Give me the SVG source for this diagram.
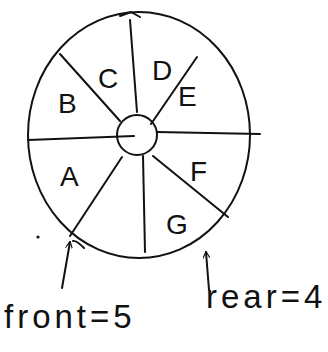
<svg xmlns="http://www.w3.org/2000/svg" width="328" height="352" viewBox="0 0 328 352">
<defs>
<marker id="ah" viewBox="0 0 10 10" refX="9" refY="5" markerWidth="7" markerHeight="7" orient="auto-start-reverse" markerUnits="userSpaceOnUse">
<path d="M0,0 L10,5 L0,10" fill="none" stroke="#111" stroke-width="1.6"/>
</marker>
</defs>
<style>
.s{fill:none;stroke:#111;stroke-width:2;stroke-linecap:round}
.l{font-family:"Liberation Sans",sans-serif;font-size:28px;fill:#111}
.t{font-family:"Liberation Sans",sans-serif;font-size:33px;letter-spacing:4px;fill:#111}
</style>
<rect width="328" height="352" fill="#fff"/>
<g id="queue">
<ellipse class="s" cx="139" cy="135" rx="111" ry="123"/>
<circle class="s" cx="137" cy="135" r="20"/>
</g>
<g id="connectors">
<line class="s" x1="130" y1="20" x2="137" y2="112"/>
<line class="s" x1="60" y1="54" x2="120" y2="121"/>
<line class="s" x1="197" y1="57" x2="151" y2="124"/>
<line class="s" x1="28" y1="140" x2="134" y2="136"/>
<line class="s" x1="157" y1="132" x2="260" y2="134"/>
<line class="s" x1="122" y1="157" x2="70" y2="236"/>
<line class="s" x1="143" y1="156" x2="145" y2="252"/>
<line class="s" x1="153" y1="156" x2="228" y2="217"/>
<path class="s" d="M120,16 L131,12 L140,17"/>
<line class="s" x1="62" y1="288" x2="70" y2="242" marker-end="url(#ah)"/>
<line class="s" x1="209" y1="290" x2="206" y2="252" marker-end="url(#ah)"/>
<path class="s" d="M84,248 Q76,240 73,241"/>
<circle cx="38" cy="237" r="1.6" fill="#111"/>
</g>
<g id="labels">
<text class="l" x="58" y="113">B</text>
<text class="l" x="98" y="88">C</text>
<text class="l" x="152" y="80">D</text>
<text class="l" x="178" y="106">E</text>
<text class="l" x="60" y="186">A</text>
<text class="l" x="190" y="181">F</text>
<text class="l" x="166" y="234">G</text>
<text class="t" x="4" y="328">front=5</text>
<text class="t" x="206" y="308">rear=4</text>
</g>
</svg>
